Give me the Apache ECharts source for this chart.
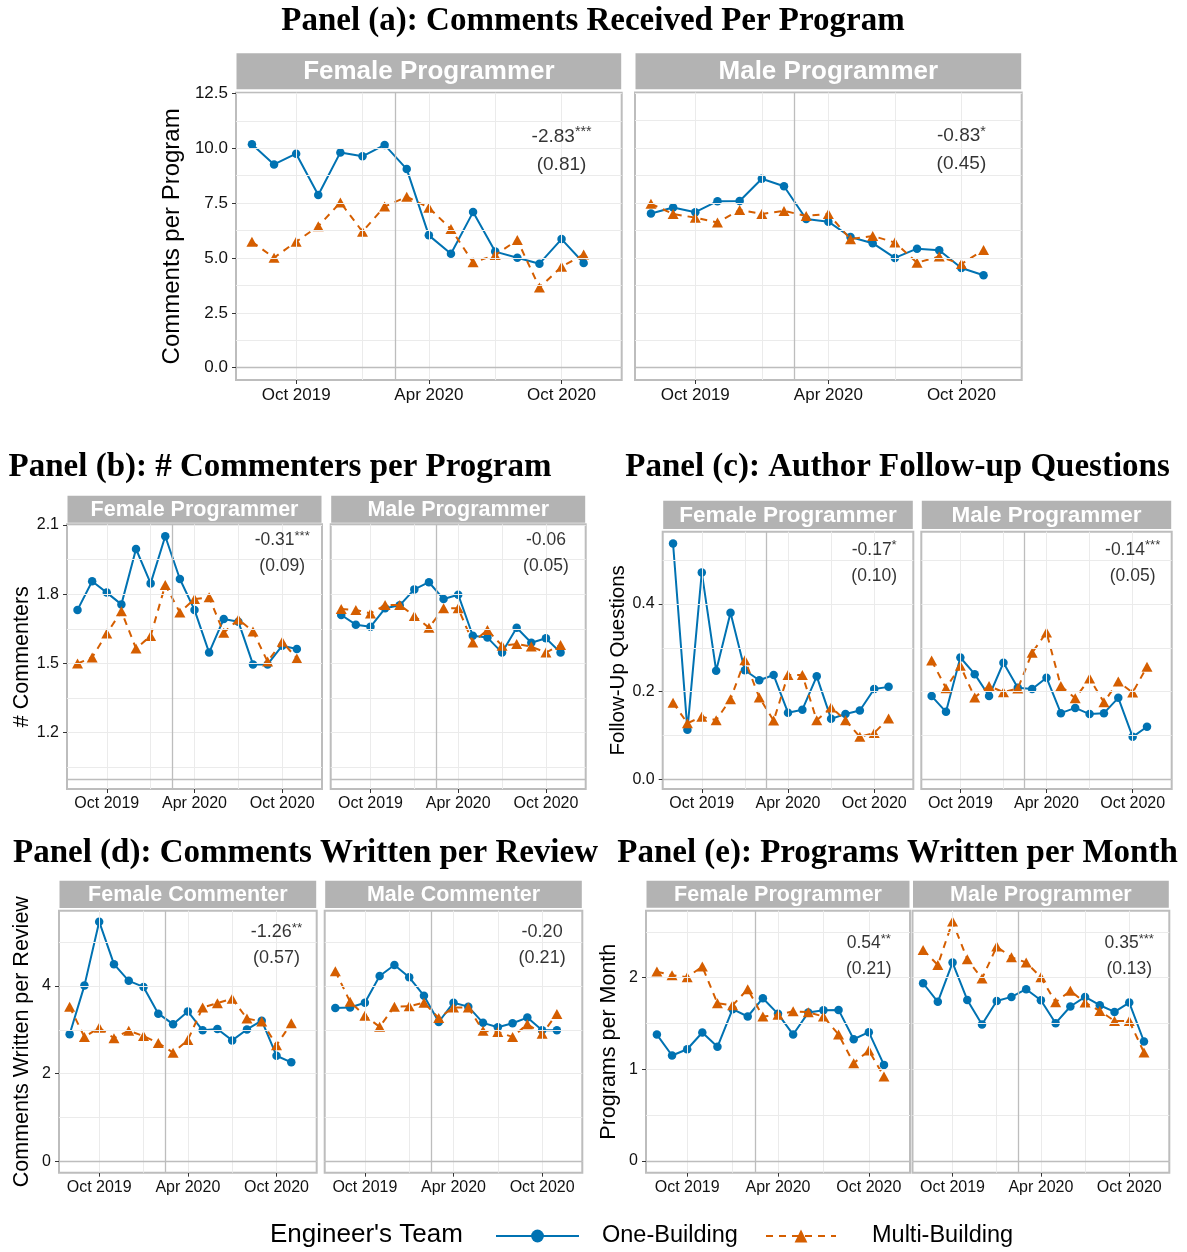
<!DOCTYPE html>
<html>
<head>
<meta charset="utf-8">
<script src="https://cdn.jsdelivr.net/npm/echarts@6/dist/echarts.min.js"></script>
<style>
  html, body { margin: 0; background: #fff; }
  #chart { width: 1187px; height: 1252px; }
</style>
</head>
<body>
<div id="chart"></div>
<script>
// monthly observations, Aug 2019 .. Nov 2020
const months = ['2019-08', '2019-09', '2019-10', '2019-11', '2019-12', '2020-01', '2020-02', '2020-03',
  '2020-04', '2020-05', '2020-06', '2020-07', '2020-08', '2020-09', '2020-10', '2020-11']
const xTickMonths = ['2019-10', '2020-04', '2020-10']
const xTickLabels = ['Oct 2019', 'Apr 2020', 'Oct 2020']
const cutoffDate = '2020-02-15'

// Panel (a): comments received per program
const aFemaleOne = [10.18, 9.26, 9.75, 7.87, 9.81, 9.63, 10.15, 9.05, 6.03, 5.19, 7.09, 5.29, 5.01, 4.74, 5.86, 4.77]
const aFemaleMulti = [5.74, 5.01, 5.74, 6.45, 7.53, 6.20, 7.34, 7.79, 7.29, 6.32, 4.80, 5.13, 5.82, 3.65, 4.60, 5.16]
const aMaleOne = [7.02, 7.29, 7.08, 7.58, 7.59, 8.60, 8.26, 6.77, 6.65, 5.95, 5.67, 5.00, 5.42, 5.35, 4.54, 4.21]
const aMaleMulti = [7.46, 7.00, 6.83, 6.61, 7.18, 7.00, 7.14, 6.91, 7.00, 5.85, 6.00, 5.70, 4.78, 5.06, 4.72, 5.36]
const aYTicks = [0, 2.5, 5, 7.5, 10, 12.5]
const aEst = [['-2.83', '***', '(0.81)'], ['-0.83', '*', '(0.45)']]

// Panel (b): # commenters per program
const bFemaleOne = [1.732, 1.856, 1.807, 1.756, 1.996, 1.847, 2.051, 1.866, 1.732, 1.547, 1.693, 1.681, 1.496, 1.496, 1.577, 1.563]
const bFemaleMulti = [1.500, 1.526, 1.630, 1.726, 1.565, 1.619, 1.840, 1.721, 1.779, 1.787, 1.633, 1.691, 1.639, 1.508, 1.594, 1.522]
const bMaleOne = [1.710, 1.668, 1.659, 1.739, 1.752, 1.821, 1.852, 1.779, 1.798, 1.620, 1.612, 1.547, 1.655, 1.590, 1.609, 1.547]
const bMaleMulti = [1.736, 1.732, 1.717, 1.753, 1.753, 1.706, 1.655, 1.739, 1.739, 1.591, 1.645, 1.577, 1.584, 1.573, 1.547, 1.580]
const bYTicks = [1.2, 1.5, 1.8, 2.1]
const bEst = [['-0.31', '***', '(0.09)'], ['-0.06', '', '(0.05)']]

// Panel (c): author follow-up questions
const cFemaleOne = [0.538, 0.113, 0.472, 0.248, 0.380, 0.249, 0.226, 0.238, 0.152, 0.159, 0.235, 0.138, 0.149, 0.157, 0.206, 0.211]
const cFemaleMulti = [0.175, 0.128, 0.143, 0.135, 0.183, 0.272, 0.187, 0.134, 0.238, 0.238, 0.135, 0.164, 0.135, 0.097, 0.106, 0.139]
const cMaleOne = [0.190, 0.154, 0.278, 0.240, 0.190, 0.266, 0.209, 0.206, 0.232, 0.151, 0.163, 0.149, 0.151, 0.186, 0.097, 0.120]
const cMaleMulti = [0.271, 0.208, 0.259, 0.187, 0.213, 0.199, 0.207, 0.289, 0.335, 0.213, 0.185, 0.230, 0.176, 0.223, 0.198, 0.257]
const cYTicks = [0, 0.2, 0.4]
const cEst = [['-0.17', '*', '(0.10)'], ['-0.14', '***', '(0.05)']]

// Panel (d): comments written per review
const dFemaleOne = [2.90, 4.01, 5.47, 4.50, 4.12, 3.98, 3.37, 3.13, 3.42, 2.99, 3.02, 2.76, 3.01, 3.21, 2.41, 2.26]
const dFemaleMulti = [3.53, 2.84, 3.05, 2.81, 2.98, 2.86, 2.70, 2.48, 2.77, 3.51, 3.61, 3.71, 3.26, 3.19, 2.65, 3.15]
const dMaleOne = [3.50, 3.51, 3.62, 4.23, 4.48, 4.20, 3.78, 3.18, 3.62, 3.53, 3.16, 3.06, 3.15, 3.28, 2.99, 2.99]
const dMaleMulti = [4.34, 3.64, 3.32, 3.07, 3.53, 3.54, 3.62, 3.27, 3.51, 3.51, 2.98, 2.95, 2.84, 3.13, 2.91, 3.36]
const dYTicks = [0, 2, 4]
const dEst = [['-1.26', '**', '(0.57)'], ['-0.20', '', '(0.21)']]

// Panel (e): programs written per month
const eFemaleOne = [1.378, 1.149, 1.218, 1.400, 1.244, 1.655, 1.575, 1.775, 1.604, 1.378, 1.618, 1.644, 1.647, 1.327, 1.404, 1.047]
const eFemaleMulti = [2.065, 2.025, 2.004, 2.120, 1.720, 1.698, 1.873, 1.575, 1.593, 1.633, 1.622, 1.575, 1.378, 1.065, 1.204, 0.920]
const eMaleOne = [1.938, 1.735, 2.164, 1.756, 1.487, 1.745, 1.789, 1.873, 1.753, 1.502, 1.684, 1.789, 1.698, 1.625, 1.727, 1.302]
const eMaleMulti = [2.302, 2.138, 2.611, 2.200, 1.989, 2.338, 2.222, 2.164, 2.004, 1.731, 1.855, 1.727, 1.636, 1.527, 1.527, 1.182]
const eYTicks = [0, 1, 2]
const eEst = [['0.54', '**', '(0.21)'], ['0.35', '***', '(0.13)']]

const BLUE = '#0072B2'
const ORANGE = '#D55E00'
const SANS = '"Liberation Sans", Arial, sans-serif'
const SERIF = '"Liberation Serif", "Times New Roman", serif'

// month -> index (Apr 2019 = 0), fractional day for the cutoff
function monthIdx(s) {
  const p = s.split('-').map(Number)
  let v = (p[0] - 2019) * 12 + (p[1] - 4)
  if (p[2]) v += (p[2] - 1) / new Date(p[0], p[1], 0).getDate()
  return v
}
const xs = months.map(monthIdx)
const xTicks = xTickMonths.map(monthIdx)
const cutoff = monthIdx(cutoffDate)
const X_MIN = 3.28
const X_MAX = 20.72

// layout: [left, top, width, height] of each facet, strip [top, height]
const panels = [
  { title: 'Panel (a): Comments Received Per Program', titleX: 593, titleY: 21,
    yName: 'Comments per Program', nameGap: 52, nameSize: 24,
    yMin: -0.56, yMax: 12.53, yTicks: aYTicks, digits: 1, gridStep: 1.25, gridFrom: 0, hline: 0, annotY: 9.9,
    tickSize: 17, stripSize: 26, annotSize: 19, lineH: 28, strip: [53.3, 36],
    facets: [
      { label: 'Female Programmer', one: aFemaleOne, multi: aFemaleMulti, est: aEst[0], rect: [236, 92.7, 385.7, 287.3] },
      { label: 'Male Programmer', one: aMaleOne, multi: aMaleMulti, est: aEst[1], rect: [635, 92.5, 386.7, 287.5] }
    ] },
  { title: 'Panel (b): # Commenters per Program', titleX: 280, titleY: 467,
    yName: '# Commenters', nameGap: 33, nameSize: 21.5,
    yMin: 0.956, yMax: 2.103, yTicks: bYTicks, digits: 1, gridStep: 0.15, gridFrom: 1.05, hline: 1.0, annotY: 1.979,
    tickSize: 16, stripSize: 21.5, annotSize: 17.5, lineH: 26, strip: [495.7, 27],
    facets: [
      { label: 'Female Programmer', one: bFemaleOne, multi: bFemaleMulti, est: bEst[0], rect: [67, 524.3, 255, 264.7] },
      { label: 'Male Programmer', one: bMaleOne, multi: bMaleMulti, est: bEst[1], rect: [330.7, 524.3, 255, 264.7] }
    ] },
  { title: 'Panel (c): Author Follow-up Questions', titleX: 897.5, titleY: 467,
    yName: 'Follow-Up Questions', nameGap: 32, nameSize: 20.5,
    yMin: -0.022, yMax: 0.565, yTicks: cYTicks, digits: 1, gridStep: 0.1, gridFrom: 0, hline: 0, annotY: 0.494,
    tickSize: 16, stripSize: 22.5, annotSize: 17.5, lineH: 26, strip: [500.7, 28.3],
    facets: [
      { label: 'Female Programmer', one: cFemaleOne, multi: cFemaleMulti, est: cEst[0], rect: [662.7, 531.7, 250.6, 257.3] },
      { label: 'Male Programmer', one: cMaleOne, multi: cMaleMulti, est: cEst[1], rect: [921.3, 531.7, 250.4, 257.3] }
    ] },
  { title: 'Panel (d): Comments Written per Review', titleX: 305.5, titleY: 853,
    yName: 'Comments Written per Review', nameGap: 26, nameSize: 21.5,
    yMin: -0.26, yMax: 5.72, yTicks: dYTicks, digits: 0, gridStep: 1, gridFrom: 0, hline: 0, annotY: 4.94,
    tickSize: 16, stripSize: 21.5, annotSize: 18, lineH: 26, strip: [880.7, 27.3],
    facets: [
      { label: 'Female Commenter', one: dFemaleOne, multi: dFemaleMulti, est: dEst[0], rect: [59, 910.7, 257.7, 262] },
      { label: 'Male Commenter', one: dMaleOne, multi: dMaleMulti, est: dEst[1], rect: [324.7, 910.7, 257.6, 262] }
    ] },
  { title: 'Panel (e): Programs Written per Month', titleX: 897.5, titleY: 853,
    yName: 'Programs per Month', nameGap: 26, nameSize: 21.5,
    yMin: -0.13, yMax: 2.73, yTicks: eYTicks, digits: 0, gridStep: 0.5, gridFrom: 0, hline: 0, annotY: 2.233,
    tickSize: 16, stripSize: 21.5, annotSize: 17.5, lineH: 26, strip: [880.7, 27],
    facets: [
      { label: 'Female Programmer', one: eFemaleOne, multi: eFemaleMulti, est: eEst[0], rect: [646, 910.7, 264, 262] },
      { label: 'Male Programmer', one: eMaleOne, multi: eMaleMulti, est: eEst[1], rect: [912.5, 910.7, 256.8, 262] }
    ] }
]

const grids = []
const xAxes = []
const yAxes = []
const series = []
const graphics = []

panels.forEach((p) => {
  graphics.push({
    type: 'text', x: p.titleX, y: p.titleY,
    style: { text: p.title, fill: '#000', font: 'bold 33px ' + SERIF, align: 'center', verticalAlign: 'middle' }
  })
  const gridYs = []
  for (let v = p.gridFrom; v <= p.yMax + 1e-9; v += p.gridStep) {
    if (v >= p.yMin) gridYs.push(+v.toFixed(4))
  }
  const gridXs = [6, 9, 12, 15, 18]

  p.facets.forEach((f, k) => {
    const i = grids.length
    const [left, top, width, height] = f.rect
    const isFirst = k === 0
    grids.push({
      left: left, top: top, width: width, height: height,
      show: true, backgroundColor: '#fff', borderColor: '#bdbdbd', borderWidth: 2
    })
    graphics.push({
      type: 'rect', shape: { x: left + 0.5, y: p.strip[0], width: width - 1, height: p.strip[1] },
      style: { fill: '#b3b3b3' }
    })
    graphics.push({
      type: 'text', x: left + width / 2, y: p.strip[0] + p.strip[1] / 2 + 1,
      style: { text: f.label, fill: '#fff', font: 'bold ' + p.stripSize + 'px ' + SANS, align: 'center', verticalAlign: 'middle' }
    })
    xAxes.push({
      gridIndex: i, type: 'value', min: X_MIN, max: X_MAX,
      axisLine: { show: false, onZero: false },
      splitLine: { show: false },
      axisTick: { show: true, customValues: xTicks, length: 4, lineStyle: { color: '#333' } },
      axisLabel: {
        customValues: xTicks, margin: 7, fontSize: p.tickSize, color: '#111', fontFamily: SANS,
        formatter: (v) => xTickLabels[xTicks.indexOf(v)]
      }
    })
    yAxes.push({
      gridIndex: i, type: 'value', min: p.yMin, max: p.yMax,
      axisLine: { show: false, onZero: false },
      splitLine: { show: false },
      axisTick: { show: isFirst, customValues: p.yTicks, length: 4, lineStyle: { color: '#333' } },
      axisLabel: {
        show: isFirst, customValues: p.yTicks, margin: 8, fontSize: p.tickSize, color: '#111', fontFamily: SANS,
        formatter: (v) => v.toFixed(p.digits)
      },
      name: isFirst ? p.yName : '', nameLocation: 'middle', nameRotate: 90, nameGap: p.nameGap,
      nameTextStyle: { fontSize: p.nameSize, color: '#000', fontFamily: SANS }
    })
    // background grid lines
    series.push({
      name: 'grid' + i, type: 'line', xAxisIndex: i, yAxisIndex: i, data: [], z: 1,
      markLine: {
        silent: true, symbol: ['none', 'none'], label: { show: false }, animation: false,
        lineStyle: { color: '#ebebeb', width: 1, type: 'solid' },
        data: gridYs.map((v) => ({ yAxis: v })).concat(gridXs.map((v) => ({ xAxis: v })))
      }
    })
    // cutoff and baseline reference lines
    series.push({
      name: 'ref' + i, type: 'line', xAxisIndex: i, yAxisIndex: i, data: [], z: 2,
      markLine: {
        silent: true, symbol: ['none', 'none'], label: { show: false }, animation: false,
        lineStyle: { color: '#bdbdbd', width: 1.3, type: 'solid' },
        data: [{ xAxis: cutoff }, { yAxis: p.hline }]
      }
    })
    series.push({
      name: 'One-Building', type: 'line', xAxisIndex: i, yAxisIndex: i, z: 3,
      data: f.one.map((v, j) => [xs[j], v]),
      symbol: 'circle', symbolSize: 8.5, showSymbol: true,
      itemStyle: { color: BLUE, borderWidth: 0 },
      lineStyle: { color: BLUE, width: 2 }
    })
    series.push({
      name: 'Multi-Building', type: 'line', xAxisIndex: i, yAxisIndex: i, z: 4,
      data: f.multi.map((v, j) => [xs[j], v]),
      symbol: 'triangle', symbolSize: [11, 10], showSymbol: true,
      itemStyle: { color: ORANGE, borderWidth: 0 },
      lineStyle: { color: ORANGE, width: 2, type: [7, 6] }
    })
    const est = f.est
    series.push({
      name: 'est' + i, type: 'scatter', xAxisIndex: i, yAxisIndex: i, z: 5, silent: true,
      data: [[xTicks[2], p.annotY]], symbolSize: 1, itemStyle: { color: 'rgba(0,0,0,0)' },
      label: {
        show: true, position: 'inside', color: '#000',
        formatter: '{n|' + est[0] + '}' + (est[1] ? '{s|' + est[1] + '}' : '') + '\n{n|' + est[2] + '}',
        rich: {
          n: { fontSize: p.annotSize, fontFamily: SANS, color: '#000', lineHeight: p.lineH },
          s: { fontSize: p.annotSize * 0.75, fontFamily: SANS, color: '#000', lineHeight: p.annotSize * 0.75, padding: [0, 0, 8, 0] }
        }
      }
    })
  })
})

graphics.push({
  type: 'text', x: 270, y: 1235,
  style: { text: "Engineer's Team", fill: '#000', font: '26px ' + SANS, align: 'left', verticalAlign: 'middle' }
})

const chart = echarts.init(document.getElementById('chart'), null, { renderer: 'canvas' })
chart.setOption({
  animation: false,
  backgroundColor: '#fff',
  grid: grids,
  xAxis: xAxes,
  yAxis: yAxes,
  legend: [
    { data: ['One-Building'], left: 490, top: 1219, itemWidth: 83, itemHeight: 16,
      textStyle: { fontSize: 23.5, color: '#000', fontFamily: SANS, padding: [0, 0, 0, 18] } },
    { data: ['Multi-Building'], left: 760, top: 1219, itemWidth: 70, itemHeight: 16,
      textStyle: { fontSize: 23.5, color: '#000', fontFamily: SANS, padding: [0, 0, 0, 31] } }
  ],
  series: series,
  graphic: graphics
})
</script>
</body>
</html>
